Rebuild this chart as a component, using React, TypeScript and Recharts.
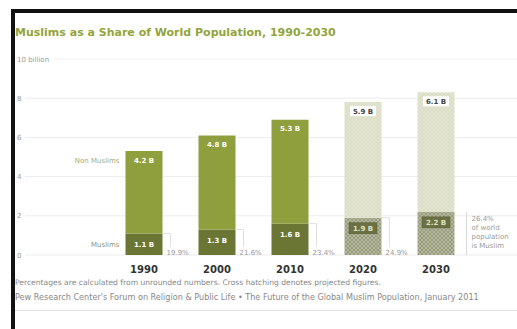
import { BarChart, Bar, XAxis, YAxis, CartesianGrid, Cell, LabelList } from 'recharts';

const years = ['1990', '2000', '2010', '2020', '2030'];
const muslims = [1.1, 1.3, 1.6, 1.9, 2.2];
const nonMuslims = [4.2, 4.8, 5.3, 5.9, 6.1];
const muslimShare = ['19.9%', '21.6%', '23.4%', '24.9%', '26.4%'];
const projected = [false, false, false, true, true];
const yTicks = [0, 2, 4, 6, 8, 10];

const data = years.map((year, i) => ({ year, muslims: muslims[i], nonMuslims: nonMuslims[i] }));

const FONT = '"DejaVu Sans", Verdana, sans-serif';

function YTick({ y, payload }: any) {
  const label = payload.value === 10 ? '10 billion' : String(payload.value);
  const w = payload.value === 10 ? 40 : 10;
  return (
    <g>
      <rect x={15} y={y - 5} width={w} height={10} fill="#fff" />
      <text x={17} y={y} dy={2.5} fontSize={7} fill="#999" fontFamily={FONT}>
        {label}
      </text>
    </g>
  );
}

function XTick({ x, y, payload }: any) {
  return (
    <text x={x} y={y + 10} textAnchor="middle" fontSize={10} fontWeight="bold" fill="#333" fontFamily={FONT}>
      {payload.value}
    </text>
  );
}

function NonMuslimLabel(props: any) {
  const { x, y, width, value, index } = props;
  const cx = x + width / 2;
  const proj = projected[index];
  return (
    <g fontFamily={FONT}>
      {proj && <rect x={cx - 13} y={y + 4} width={26} height={10} fill="#fff" />}
      <text x={cx} y={y + 9} dy={2.5} textAnchor="middle" fontSize={7} fontWeight="bold" fill={proj ? '#444' : '#fff'}>
        {value} B
      </text>
      {index === 0 && (
        <text x={x - 6} y={y + 9} dy={2.5} textAnchor="end" fontSize={7} fill="#a3ad74">
          Non Muslims
        </text>
      )}
    </g>
  );
}

function MuslimLabel(props: any) {
  const { x, y, width, height, value, index } = props;
  const cx = x + width / 2;
  const proj = projected[index];
  const right = x + width;
  const bottom = y + height;
  const last = index === years.length - 1;
  return (
    <g fontFamily={FONT}>
      {proj && <rect x={cx - 14} y={y + 5} width={28} height={11} fill="#6b7142" stroke="#555a30" strokeWidth={0.5} />}
      <text x={cx} y={y + 11} dy={2.5} textAnchor="middle" fontSize={7} fontWeight="bold" fill={proj ? '#dfe3c6' : '#fff'}>
        {value} B
      </text>
      {index === 0 && (
        <text x={x - 6} y={y + 11} dy={2.5} textAnchor="end" fontSize={7} fill="#8f966a">
          Muslims
        </text>
      )}
      {!last && (
        <>
          <polyline
            points={`${right},${y} ${right + 8},${y} ${right + 8},${bottom - 8}`}
            fill="none"
            stroke="#d8d8d8"
            strokeWidth={0.8}
          />
          <text x={right + 4} y={bottom - 2} dy={2} fontSize={7} fill="#999">
            {muslimShare[index]}
          </text>
        </>
      )}
      {last && (
        <>
          <line x1={right + 12} y1={y} x2={right + 12} y2={bottom} stroke="#d0d0d0" strokeWidth={0.8} />
          {[muslimShare[index], 'of world', 'population', 'is Muslim'].map((t, k) => (
            <text key={k} x={right + 17} y={y + 7 + k * 9} dy={2.5} fontSize={7} fill="#999">
              {t}
            </text>
          ))}
        </>
      )}
    </g>
  );
}

export default function App() {
  return (
    <div style={{ position: 'absolute', left: 0, top: 0, width: 517, height: 329, background: '#fff', fontFamily: FONT }}>
      <div style={{ position: 'absolute', left: 0, top: 0 }}>
        <BarChart
          width={517}
          height={329}
          data={data}
          margin={{ top: 59, right: 0, bottom: 44, left: 17 }}
          barSize={37}
        >
          <defs>
            <pattern id="hatchLight" width="4" height="4" patternUnits="userSpaceOnUse">
              <rect width="4" height="4" fill="#dbdec5" />
              <path d="M0,4 L4,0 M0,0 L4,4" stroke="#e8ead9" strokeWidth="0.6" />
            </pattern>
            <pattern id="hatchDark" width="4" height="4" patternUnits="userSpaceOnUse">
              <rect width="4" height="4" fill="#b4b79c" />
              <path d="M0,4 L4,0 M0,0 L4,4" stroke="#8e9274" strokeWidth="0.7" />
            </pattern>
          </defs>
          <CartesianGrid vertical={false} stroke="#ececec" />
          <XAxis
            dataKey="year"
            axisLine={false}
            tickLine={false}
            height={30}
            padding={{ left: 89.5, right: 44.5 }}
            tick={<XTick />}
          />
          <YAxis
            width={1}
            domain={[0, 10]}
            ticks={yTicks}
            interval={0}
            axisLine={false}
            tickLine={false}
            tick={<YTick />}
          />
          <Bar dataKey="muslims" stackId="a" isAnimationActive={false}>
            {data.map((d, i) => (
              <Cell key={d.year} fill={projected[i] ? 'url(#hatchDark)' : '#6c7634'} />
            ))}
            <LabelList dataKey="muslims" content={<MuslimLabel />} />
          </Bar>
          <Bar dataKey="nonMuslims" stackId="a" isAnimationActive={false}>
            {data.map((d, i) => (
              <Cell key={d.year} fill={projected[i] ? 'url(#hatchLight)' : '#909f3e'} />
            ))}
            <LabelList dataKey="nonMuslims" content={<NonMuslimLabel />} />
          </Bar>
        </BarChart>
      </div>
      <div style={{ position: 'absolute', left: 11, top: 9, width: 506, height: 4, background: '#111' }} />
      <div style={{ position: 'absolute', left: 11, top: 9, width: 4, height: 320, background: '#111' }} />
      <div
        style={{
          position: 'absolute',
          left: 15,
          top: 26,
          fontSize: 11,
          fontWeight: 'bold',
          color: '#93a43c',
          whiteSpace: 'nowrap',
        }}
      >
        Muslims as a Share of World Population, 1990-2030
      </div>
      <div style={{ position: 'absolute', left: 15, top: 278, fontSize: 7.6, color: '#888', whiteSpace: 'nowrap' }}>
        Percentages are calculated from unrounded numbers. Cross hatching denotes projected figures.
      </div>
      <div style={{ position: 'absolute', left: 15, top: 292, fontSize: 8.1, color: '#888', whiteSpace: 'nowrap' }}>
        Pew Research Center's Forum on Religion &amp; Public Life • The Future of the Global Muslim Population, January 2011
      </div>
      <div style={{ position: 'absolute', left: 15, top: 310, width: 502, height: 1, background: '#e2e2e2' }} />
    </div>
  );
}
